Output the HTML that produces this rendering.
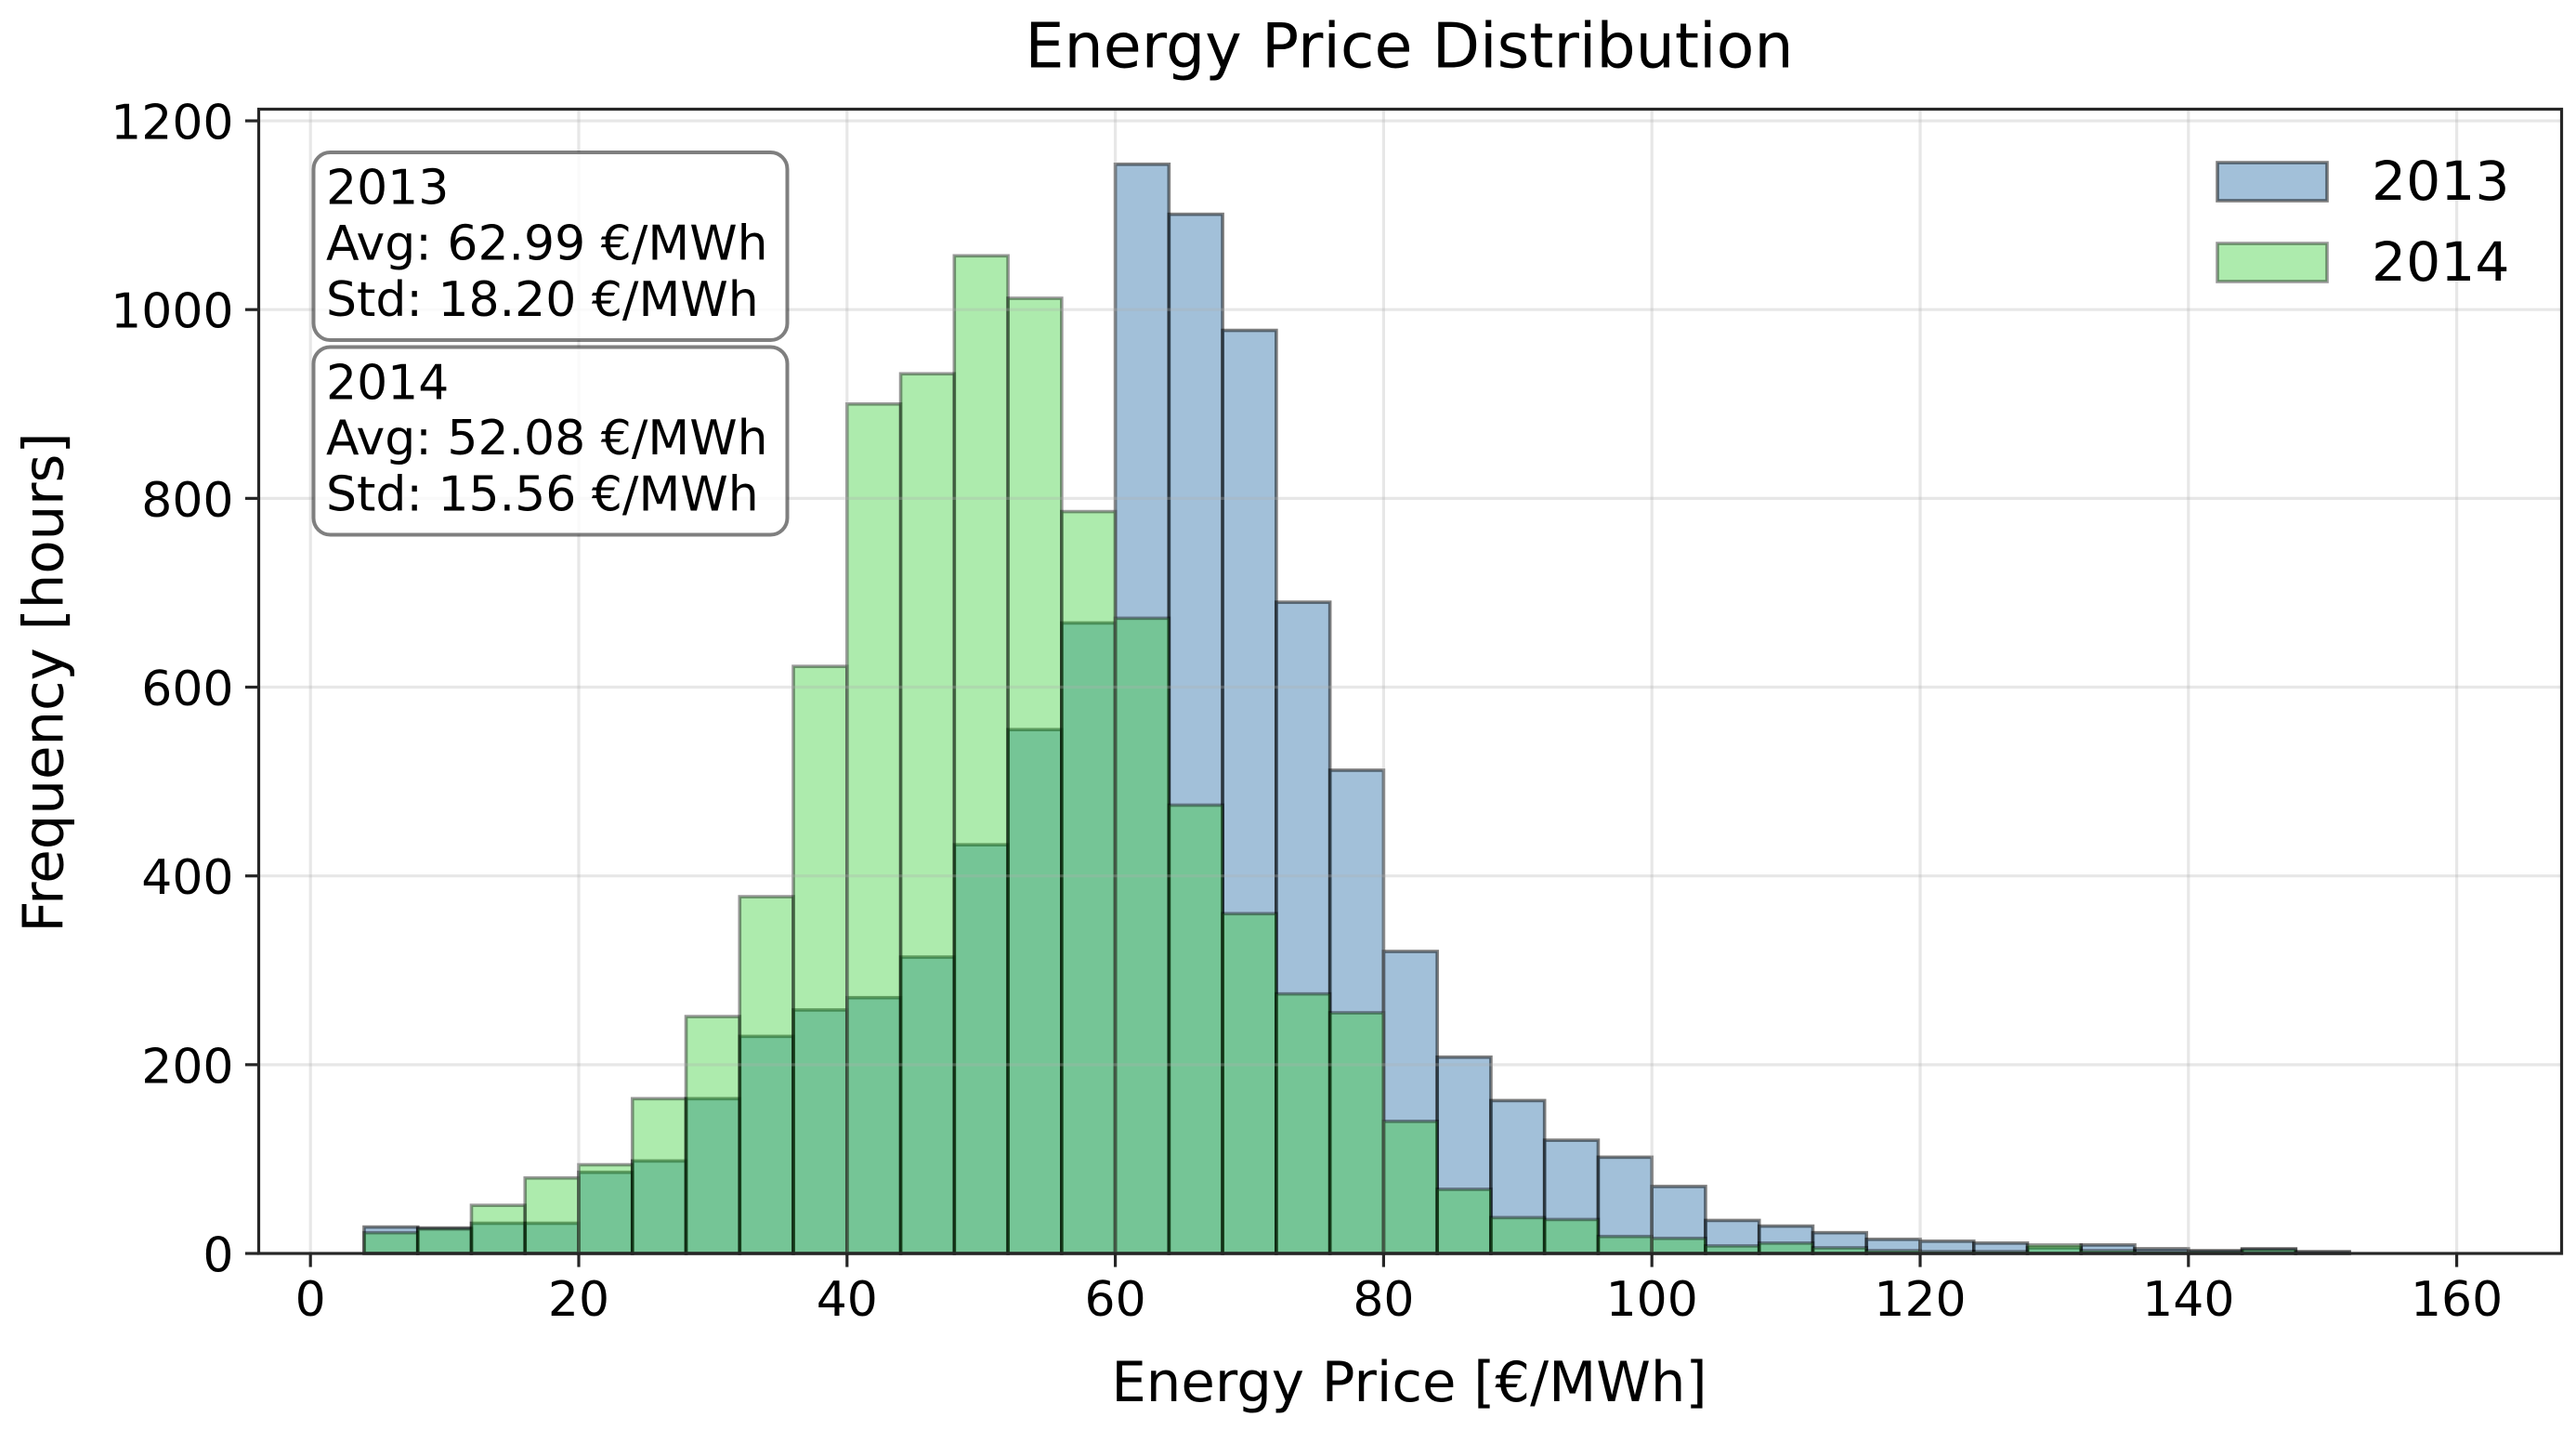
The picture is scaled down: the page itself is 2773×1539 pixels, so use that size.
<!DOCTYPE html>
<html lang="en">
<head>
<meta charset="utf-8">
<title>Energy Price Distribution</title>
<style>
html,body{margin:0;padding:0;background:#fff;width:2773px;height:1539px;overflow:hidden}
svg{display:block}
text{font-family:"DejaVu Sans","Liberation Sans",sans-serif;fill:#000}
</style>
</head>
<body>
<svg id="chart" xmlns="http://www.w3.org/2000/svg" width="2773" height="1539" viewBox="0 0 2773 1539">
  <rect x="0" y="0" width="2773" height="1539" fill="#fff"/>
  <g id="bars-2013"></g>
  <g id="bars-2014"></g>
  <g id="grid"></g>
  <g id="ticks"></g>
  <g>
    <rect x="337.5" y="164" width="510" height="202" rx="18" ry="18" fill="#fff" fill-opacity="0.8" stroke="#000" stroke-opacity="0.5" stroke-width="4"/>
    <text x="351" y="219.5" font-size="52">2013</text>
    <text x="351" y="279.5" font-size="52">Avg: 62.99 €/MWh</text>
    <text x="351" y="340" font-size="52">Std: 18.20 €/MWh</text>
  </g>
  <g>
    <rect x="337.5" y="373.5" width="510" height="202" rx="18" ry="18" fill="#fff" fill-opacity="0.8" stroke="#000" stroke-opacity="0.5" stroke-width="4"/>
    <text x="351" y="429.5" font-size="52">2014</text>
    <text x="351" y="489" font-size="52">Avg: 52.08 €/MWh</text>
    <text x="351" y="549.5" font-size="52">Std: 15.56 €/MWh</text>
  </g>
  <g>
    <rect x="2387" y="175" width="118" height="41" fill="steelblue" fill-opacity="0.5" stroke="#000" stroke-opacity="0.5" stroke-width="3.6"/>
    <text x="2553" y="215" font-size="58.33">2013</text>
    <rect x="2387" y="262" width="118" height="41" fill="limegreen" fill-opacity="0.4" stroke="#000" stroke-opacity="0.4" stroke-width="3.6"/>
    <text x="2553" y="302" font-size="58.33">2014</text>
  </g>
  <rect x="278.5" y="117.5" width="2479" height="1231.5" fill="none" stroke="#262626" stroke-width="3.2"/>
  <text x="1517" y="72.7" font-size="66.67" text-anchor="middle">Energy Price Distribution</text>
  <text x="1517" y="1508" font-size="59.3" text-anchor="middle">Energy Price [€/MWh]</text>
  <text transform="translate(67.3 734.5) rotate(-90)" x="0" y="0" font-size="59.3" text-anchor="middle">Frequency [hours]</text>
</svg>
<script>
const binStarts = [4,8,12,16,20,24,28,32,36,40,44,48,52,56,60,64,68,72,76,80,84,88,92,96,100,104,108,112,116,120,124,128,132,136,140,144,148];
const binWidth = 4;
const values2013 = [28,27,32,32,86,98,164,230,258,271,314,433,555,668,1154,1101,978,690,512,320,208,162,120,102,71,35,29,22,15,13,11,6,9,5,3,5,2];
const values2014 = [22,26,51,80,94,164,251,378,622,900,932,1057,1012,786,673,475,360,275,255,140,68,38,36,18,16,8,11,6,3,2,2,9,3,2,2,4,1];
const xTicks = [0,20,40,60,80,100,120,140,160];
const yTicks = [0,200,400,600,800,1000,1200];

const NS = 'http://www.w3.org/2000/svg';
const plotLeft = 278.5, plotRight = 2757.5, plotTop = 117.5, plotBottom = 1349;
function xScale(v){ return 334.2 + v * 14.44; }
function yScale(v){ return 1349 - v * 1.0158; }
function make(tag, attrs){
  const el = document.createElementNS(NS, tag);
  for (const k in attrs) el.setAttribute(k, attrs[k]);
  return el;
}
function drawBars(groupId, values, fill, fillOpacity, strokeOpacity, year){
  const g = document.getElementById(groupId);
  values.forEach(function(v, i){
    const x0 = xScale(binStarts[i]);
    const x1 = xScale(binStarts[i] + binWidth);
    const r = make('rect', {x:x0, y:yScale(v), width:x1 - x0, height:yScale(0) - yScale(v),
      fill:fill, 'fill-opacity':fillOpacity, stroke:'#000', 'stroke-opacity':strokeOpacity, 'stroke-width':3.6});
    
    
    g.appendChild(r);
  });
}
drawBars('bars-2013', values2013, 'steelblue', 0.5, 0.5, '2013');
drawBars('bars-2014', values2014, 'limegreen', 0.4, 0.4, '2014');

const grid = document.getElementById('grid');
const ticks = document.getElementById('ticks');
xTicks.forEach(function(t){
  const px = xScale(t);
  const line = make('line', {x1:px, x2:px, y1:plotTop, y2:plotBottom, stroke:'#b0b0b0', 'stroke-opacity':0.3, 'stroke-width':3.2});
  
  
  grid.appendChild(line);
  const mark = make('line', {x1:px, x2:px, y1:plotBottom, y2:plotBottom + 14.6, stroke:'#262626', 'stroke-width':3.2});
  
  
  ticks.appendChild(mark);
  const label = make('text', {x:px, y:1416, 'font-size':52, 'text-anchor':'middle'});
  label.textContent = String(t);
  
  
  ticks.appendChild(label);
});
yTicks.forEach(function(t){
  const py = yScale(t);
  const line = make('line', {x1:plotLeft, x2:plotRight, y1:py, y2:py, stroke:'#b0b0b0', 'stroke-opacity':0.3, 'stroke-width':3.2});
  
  
  grid.appendChild(line);
  const mark = make('line', {x1:plotLeft - 14.6, x2:plotLeft, y1:py, y2:py, stroke:'#262626', 'stroke-width':3.2});
  
  
  ticks.appendChild(mark);
  const label = make('text', {x:plotLeft - 27, y:py + 19.5, 'font-size':52, 'text-anchor':'end'});
  label.textContent = String(t);
  
  
  ticks.appendChild(label);
});
</script>
</body>
</html>
